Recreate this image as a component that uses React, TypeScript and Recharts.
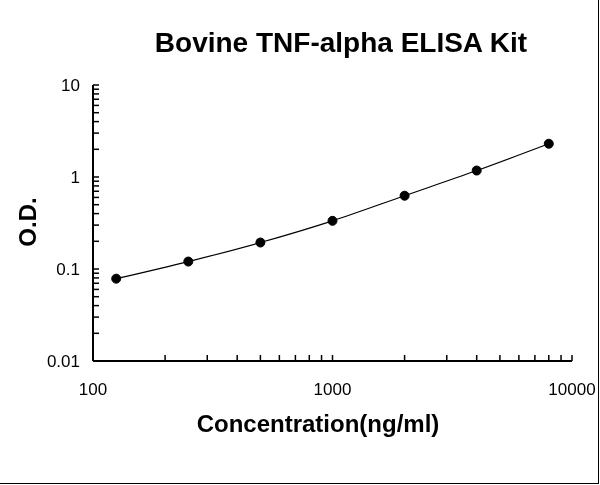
import React from 'react';
import { LineChart, Line, XAxis, YAxis } from 'recharts';

// standard curve points
const concentrations = [125, 250, 500, 1000, 2000, 4000, 8000];
const odValues = [0.0785, 0.1205, 0.194, 0.334, 0.626, 1.175, 2.3];

const xMajorTicks = [100, 1000, 10000];
const xMinorTicks = [200, 300, 400, 500, 600, 700, 800, 900, 2000, 3000, 4000, 5000, 6000, 7000, 8000, 9000];
const yMajorTicks = [0.01, 0.1, 1, 10];
const yMinorTicks = [
  0.02, 0.03, 0.04, 0.05, 0.06, 0.07, 0.08, 0.09,
  0.2, 0.3, 0.4, 0.5, 0.6, 0.7, 0.8, 0.9,
  2, 3, 4, 5, 6, 7, 8, 9,
];

const data = concentrations.map((c, i) => ({ conc: c, od: odValues[i] }));

const FONT = '"Liberation Sans", Arial, sans-serif';

const XTick = (props: any) => {
  const { x, y, payload } = props;
  const major = xMajorTicks.includes(payload.value);
  return (
    <g>
      <line x1={x} y1={y} x2={x} y2={y - 6} stroke="#000" strokeWidth={1.5} />
      {major && (
        <text x={x} y={y + 34} textAnchor="middle" fontSize={17} fontFamily={FONT} fill="#000">
          {payload.value}
        </text>
      )}
    </g>
  );
};

const YTick = (props: any) => {
  const { x, y, payload } = props;
  const major = yMajorTicks.includes(payload.value);
  return (
    <g>
      <line x1={x} y1={y} x2={x + 6} y2={y} stroke="#000" strokeWidth={1.5} />
      {major && (
        <text x={x - 13} y={y + 6} textAnchor="end" fontSize={17} fontFamily={FONT} fill="#000">
          {payload.value}
        </text>
      )}
    </g>
  );
};

const App: React.FC = () => {
  return (
    <div
      style={{
        position: 'fixed',
        top: 0,
        left: 0,
        width: 600,
        height: 485,
        background: '#fff',
        fontFamily: FONT,
      }}
    >
      {/* thin frame on right and bottom like the source image */}
      <div
        style={{
          position: 'absolute',
          top: 0,
          left: 0,
          width: 599,
          height: 484,
          boxSizing: 'border-box',
          borderRight: '1px solid #000',
          borderBottom: '1px solid #000',
        }}
      />
      <div
        style={{
          position: 'absolute',
          top: 29,
          left: 0,
          width: 682,
          textAlign: 'center',
          fontSize: 28,
          fontWeight: 'bold',
          lineHeight: '28px',
        }}
      >
        Bovine TNF-alpha ELISA Kit
      </div>
      <LineChart
        width={600}
        height={485}
        data={data}
        margin={{ top: 85, right: 28, bottom: 94, left: 33 }}
      >
        <XAxis
          dataKey="conc"
          type="number"
          scale="log"
          domain={[100, 10000]}
          ticks={[...xMajorTicks, ...xMinorTicks]}
          height={30}
          tickSize={0}
          tickMargin={0}
          tickLine={false}
          tick={<XTick />}
          axisLine={{ stroke: '#000', strokeWidth: 2 }}
          interval={0}
          allowDataOverflow
        />
        <YAxis
          type="number"
          scale="log"
          domain={[0.01, 10]}
          ticks={[...yMajorTicks, ...yMinorTicks]}
          width={60}
          tickSize={0}
          tickMargin={0}
          tickLine={false}
          tick={<YTick />}
          axisLine={{ stroke: '#000', strokeWidth: 2 }}
          interval={0}
          allowDataOverflow
        />
        <Line
          type="monotone"
          dataKey="od"
          stroke="#000"
          strokeWidth={1.2}
          dot={{ r: 4.5, fill: '#000', stroke: '#000', strokeWidth: 1 }}
          isAnimationActive={false}
        />
      </LineChart>
      <div
        style={{
          position: 'absolute',
          top: 412,
          left: 0,
          width: 636,
          textAlign: 'center',
          fontSize: 24,
          fontWeight: 'bold',
          lineHeight: '24px',
        }}
      >
        Concentration(ng/ml)
      </div>
      <div
        style={{
          position: 'absolute',
          left: 28,
          top: 222,
          transform: 'translate(-50%, -50%) rotate(-90deg)',
          fontSize: 24,
          fontWeight: 'bold',
          lineHeight: '24px',
          whiteSpace: 'nowrap',
        }}
      >
        O.D.
      </div>
    </div>
  );
};

export default App;
